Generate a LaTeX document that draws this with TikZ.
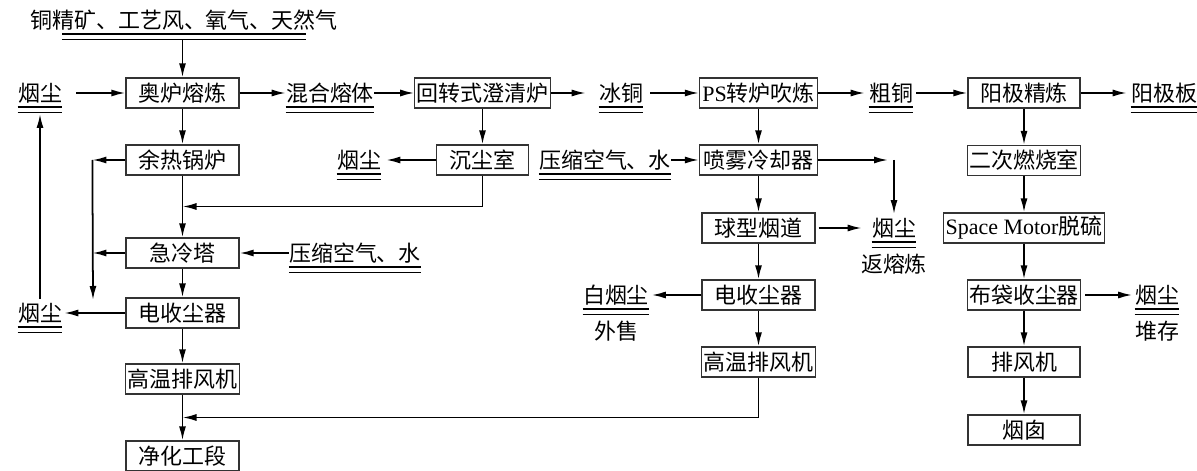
\documentclass[tikz,border=0pt]{standalone}
\usepackage{fontspec}
\setmainfont{Noto Sans CJK SC}
\newfontfamily\latinfont{Liberation Serif}
\usetikzlibrary{arrows.meta, positioning, calc}

\tikzset{
  box/.style={draw=black!80, line width=0.7pt, minimum height=0.6cm, inner sep=1pt,
    font=\fontsize{12.5}{14}\selectfont},
  prod/.style={inner xsep=0pt, inner ysep=1.5pt, text height=11pt, text depth=1.5pt,
    font=\fontsize{12.5}{14}\selectfont},
  arr/.style={-{Latex[length=2.8mm,width=1.4mm]}, line width=1pt},
  thickul/.style={line width=1.2pt},
  thinul/.style={line width=0.45pt},
}

\begin{document}
\begin{tikzpicture}
\useasboundingbox (0,0) rectangle (23.94,-9.42);

% process boxes
\foreach \nm/\x/\y/\w/\txt in {
    smelt/3.65/-1.86/2.26/奥炉熔炼,
    boiler/3.65/-3.2/2.26/余热锅炉,
    quench/3.65/-5.06/2.26/急冷塔,
    esp1/3.65/-6.26/2.26/电收尘器,
    fan1/3.65/-7.58/2.26/高温排风机,
    clean/3.65/-9.12/2.26/净化工段,
    clarify/9.65/-1.86/2.58/回转式澄清炉,
    settle/9.65/-3.2/1.84/沉尘室,
    conv/15.17/-1.86/2.36/{\latinfont PS}转炉吹炼,
    spray/15.17/-3.2/2.36/喷雾冷却器,
    flue/15.17/-4.56/2.26/球型烟道,
    esp2/15.17/-5.9/2.26/电收尘器,
    fan2/15.17/-7.24/2.26/高温排风机,
    anode/20.48/-1.86/2.24/阳极精炼,
    burn/20.48/-3.21/2.24/二次燃烧室,
    desulf/20.48/-4.56/2.9/{\latinfont Space Motor}脱硫,
    bag/20.48/-5.9/2.26/布袋收尘器,
    fan3/20.48/-7.24/2.24/排风机,
    stack/20.48/-8.6/2.24/烟囱
} {
    \node[box, minimum width=\w cm] (\nm) at (\x,\y) {\txt};
}

% materials, double underlined
\foreach \nm/\x/\y/\txt in {
    dustA/0.8/-1.86/烟尘,
    melt/6.6/-1.86/混合熔体,
    matte/12.42/-1.86/冰铜,
    blister/17.82/-1.86/粗铜,
    plate/23.28/-1.86/阳极板,
    dustC/7.18/-3.2/烟尘,
    airB/12.1/-3.2/压缩空气、水,
    airA/7.1/-5.06/压缩空气、水,
    dustD/17.88/-4.56/烟尘,
    dustB/0.8/-6.26/烟尘,
    whiteD/12.32/-5.9/白烟尘,
    dustE/23.14/-5.9/烟尘
} {
    \node[prod] (\nm) at (\x,\y) {\txt};
    \draw[thickul] (\nm.south west) -- (\nm.south east);
    \draw[thinul] ([yshift=-0.1cm]\nm.south west) -- ([yshift=-0.1cm]\nm.south east);
}
\node[prod, below=0.17cm of dustD] (noteD) {返熔炼};
\node[prod, below=0.17cm of whiteD] (noteW) {外售};
\node[prod, below=0.17cm of dustE] (noteE) {堆存};

\node[prod] (feed) at (3.68,-0.4) {铜精矿、工艺风、氧气、天然气};
\draw[thickul] ([xshift=0.65cm]feed.south west) -- ([xshift=-0.65cm]feed.south east);
\draw[thinul] ([xshift=0.65cm,yshift=-0.1cm]feed.south west) -- ([xshift=-0.65cm,yshift=-0.1cm]feed.south east);

% helper points
\coordinate (j1) at ($(boiler.south)!0.5!(quench.north)$);
\coordinate (j2) at ($(fan1.south)!0.5!(clean.north)$);
\coordinate[left=0.66cm of boiler.west] (c1);
\coordinate (c2) at (1.86,-6.0);
\coordinate (c3) at (spray.east -| dustD.north);

% main line
\draw[arr, shorten <=0.12cm] (feed.south -| smelt.north) -- (smelt.north);
\draw[arr, shorten <=0.28cm] (dustA) -- (smelt);
\draw[arr] (smelt) -- (melt);
\draw[arr] (melt) -- (clarify);
\draw[arr, shorten >=0.26cm] (clarify) -- (matte);
\draw[arr, shorten <=0.14cm] (matte) -- (conv);
\draw[arr, shorten >=0.08cm] (conv) -- (blister);
\draw[arr, shorten <=0.06cm] (blister) -- (anode);
\draw[arr, shorten >=0.08cm] (anode) -- (plate);

% left gas line
\draw[arr] (smelt) -- (boiler);
\draw[arr] (boiler) -- (quench);
\draw[arr] (quench) -- (esp1);
\draw[arr] (esp1) -- (fan1);
\draw[arr] (fan1) -- (clean);
\draw[arr] (boiler.west) -- (c1);
\draw[arr] (c1) -- (c2);
\draw[arr] (quench.west) -- (quench.west -| c1);
\draw[arr] (airA) -- (quench);
\draw[arr, shorten >=0.04cm] (esp1) -- (dustB);
\draw[arr, shorten >=0.14cm] (dustB) -- (dustA);
\draw[arr] (clarify) -- (settle);
\draw[arr, shorten >=0.1cm] (settle) -- (dustC);
\draw[arr] (settle.south) |- (j1);

% converter gas line
\draw[arr] (conv) -- (spray);
\draw[arr] (spray) -- (flue);
\draw[arr] (flue) -- (esp2);
\draw[arr] (esp2) -- (fan2);
\draw[arr] (airB) -- (spray);
\draw[arr, shorten >=0.12cm] (spray.east) -- (c3);
\draw[arr] (c3) -- (dustD.north);
\draw[arr, shorten <=0.06cm, shorten >=0.2cm] (flue) -- (dustD);
\draw[arr, shorten >=0.05cm] (esp2) -- (whiteD);
\draw[arr] (fan2.south) |- (j2);

% anode gas line
\draw[arr] (anode) -- (burn);
\draw[arr] (burn) -- (desulf);
\draw[arr] (desulf) -- (bag);
\draw[arr] (bag) -- (fan3);
\draw[arr] (fan3) -- (stack);
\draw[arr, shorten <=0.08cm, shorten >=0.05cm] (bag) -- (dustE);
\end{tikzpicture}
\end{document}
